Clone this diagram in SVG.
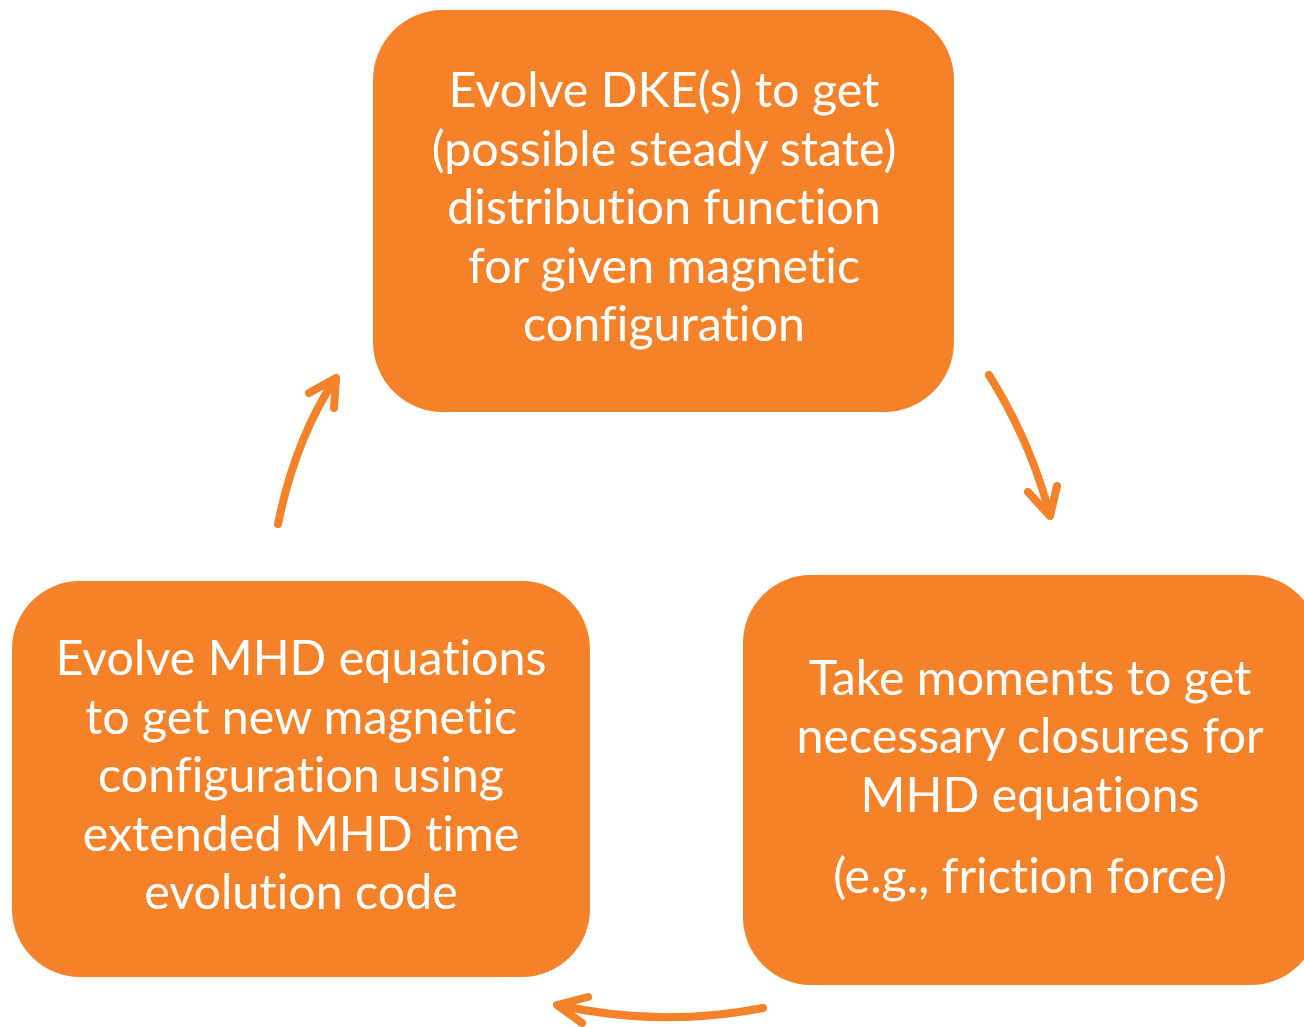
<svg xmlns="http://www.w3.org/2000/svg" width="1304" height="1027" viewBox="0 0 1304 1027">
<style>
.box{fill:#F58229;}
.t{font-family:Lato,"Open Sans","Liberation Sans",sans-serif;font-size:48.4px;fill:#ffffff;text-anchor:middle;font-variant-ligatures:none;font-feature-settings:"liga" 0;}
.arc{fill:none;stroke:#F58229;stroke-width:8;stroke-linecap:round;stroke-linejoin:round;}
</style>
<rect width="1304" height="1027" fill="#ffffff"/>
<g id="node-dke">
<rect class="box" x="373" y="10" width="581" height="402" rx="70"/>
<text class="t" x="664" y="107">Evolve DKE(s) to get</text>
<text class="t" x="664" y="166">(possible steady state)</text>
<text class="t" x="664" y="224">distribution function</text>
<text class="t" x="664" y="283">for given magnetic</text>
<text class="t" x="664" y="341">configuration</text>
</g>
<g id="node-moments">
<rect class="box" x="743" y="575" width="576" height="410" rx="68"/>
<text class="t" x="1030" y="695">Take moments to get</text>
<text class="t" x="1030" y="753">necessary closures for</text>
<text class="t" x="1030" y="812">MHD equations</text>
<text class="t" x="1030" y="893">(e.g., friction force)</text>
</g>
<g id="node-mhd">
<rect class="box" x="12" y="581" width="578" height="396" rx="68"/>
<text class="t" x="301" y="675">Evolve MHD equations</text>
<text class="t" x="301" y="734">to get new magnetic</text>
<text class="t" x="301" y="792">configuration using</text>
<text class="t" x="301" y="851">extended MHD time</text>
<text class="t" x="301" y="909">evolution code</text>
</g>
<g id="connectors">
<path class="arc" d="M989,375 Q1030,440 1050,515"/>
<polyline class="arc" points="1028,492 1050,516 1057,486"/>
<path class="arc" d="M763,1008 Q660,1028 558,1005"/>
<polyline class="arc" points="588,997 557,1005 582,1023"/>
<path class="arc" d="M278,524 Q295,440 335,379"/>
<polyline class="arc" points="309,393 336,378 334,408"/>
</g>
</svg>
